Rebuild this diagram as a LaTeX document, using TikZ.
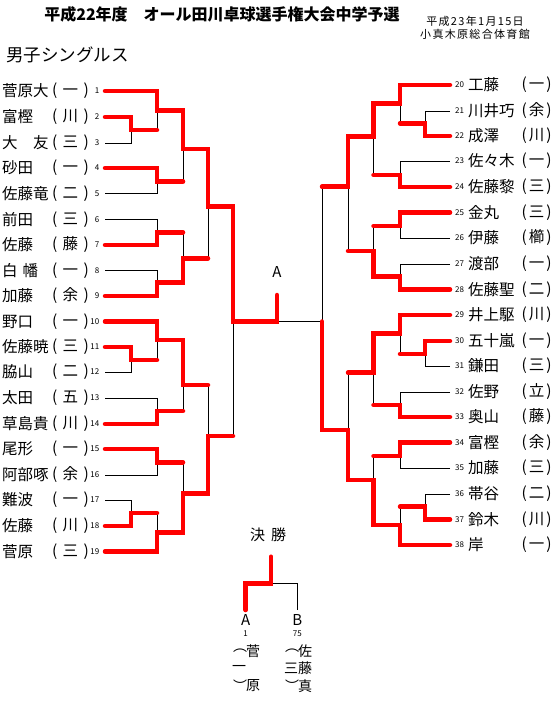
\documentclass[tikz,border=0pt]{standalone}
\usepackage{fontspec}
\setmainfont{Noto Sans CJK JP}
\newfontfamily\datefont[LetterSpace=12]{Noto Sans CJK JP}
\begin{document}
\begin{tikzpicture}[x=1pt,y=-1pt,
  win/.style={draw=red,line width=4.5pt,line cap=round,line join=miter},
  lose/.style={draw=black,line width=1pt},
  nm/.style={anchor=west,inner sep=0pt,font=\fontsize{15.5}{15.5}\selectfont},
  af/.style={inner sep=0pt,font=\fontsize{15.5}{15.5}\selectfont},
  num/.style={inner sep=0pt,font=\fontsize{8}{8}\selectfont},
  lab/.style={inner sep=0pt,font=\fontsize{15}{15}\selectfont},
  vt/.style={inner sep=0pt,font=\fontsize{14}{14}\selectfont}]
\useasboundingbox (0,0) rectangle (555,701);
% titles
\node[inner sep=0pt,font=\fontsize{16}{16}\selectfont\bfseries] (title) at (222,14) {平成22年度　オール田川卓球選手権大会中学予選};
\node[inner sep=0pt,font=\datefont\fontsize{11}{11}\selectfont] (date) at (475,21) {平成23年1月15日};
\node[inner sep=0pt,font=\datefont\fontsize{11}{11}\selectfont] (venue) at (475,34) {小真木原総合体育館};
\node[anchor=west,inner sep=0pt,font=\fontsize{17.5}{17.5}\selectfont] (event) at (6,55) {男子シングルス};
% left players
\foreach \i/\y/\n/\a in {1/91/菅原大/一,2/117/富樫/川,3/143/大　友/三,4/168/砂田/一,5/193.5/佐藤竜/二,6/219.5/前田/三,7/245/佐藤/藤,8/270.5/{白\hspace{5pt}幡}/一,9/296/加藤/余,10/321.5/野口/一,11/347/佐藤暁/三,12/372/脇山/二,13/398/太田/五,14/424/草島貴/川,15/449/尾形/一,16/475/阿部啄/余,17/500/難波/一,18/526/佐藤/川,19/551.5/菅原/三}{
  \node[nm] (n\i) at (2,\y) {\n};
  \node[af] (a\i) at (70.5,\y) {(\hspace{5.5pt}\a\hspace{5.5pt})};
  \node[num,anchor=east] (k\i) at (99.5,\y) {\i};
  \coordinate (L\i) at (105,\y);
}
% right players
\foreach \i/\y/\n/\a in {20/85/工藤/一,21/111/川井巧/余,22/136/成澤/川,23/161/佐々木/一,24/187/佐藤黎/三,25/212.5/金丸/三,26/238/伊藤/櫛,27/264/渡部/一,28/289.5/佐藤聖/二,29/315/井上駆/川,30/341/五十嵐/一,31/366/鎌田/三,32/392/佐野/立,33/417/奥山/藤,34/442.5/富樫/余,35/468/加藤/三,36/494/帯谷/二,37/519.5/鈴木/川,38/545/岸/一}{
  \node[nm] (n\i) at (468,\y) {\n};
  \node[af] (a\i) at (536.5,\y) {(\hspace{2pt}\a\hspace{2pt})};
  \node[num,anchor=west] (k\i) at (455,\y) {\i};
  \coordinate (R\i) at (450,\y);
}
% left match points
\coordinate (a23) at (131,130);
\coordinate (a1m) at (157,110.7);
\coordinate (a45) at (157,181.5);
\coordinate (a15) at (183,149);
\coordinate (a67) at (157,232.3);
\coordinate (a89) at (157,282.7);
\coordinate (a69) at (183,258.3);
\coordinate (a19) at (208,206.7);
\coordinate (a1112) at (131,360);
\coordinate (a1012) at (157,340);
\coordinate (a1314) at (157,411);
\coordinate (a1014) at (183,385);
\coordinate (a1516) at (157,462.3);
\coordinate (a1718) at (131,513);
\coordinate (a1719) at (157,532.5);
\coordinate (a1519) at (183,493.3);
\coordinate (a1019) at (208,436);
\coordinate (aL) at (233,321.5);
\coordinate (top) at (277,295);
% right match points
\coordinate (b2122) at (425,123.3);
\coordinate (b20) at (400,103.3);
\coordinate (b2324) at (400,175);
\coordinate (b2024) at (373.5,136.7);
\coordinate (b2526) at (400,226);
\coordinate (b2728) at (400,276.7);
\coordinate (b2528) at (373.5,251);
\coordinate (b2028) at (348,186.7);
\coordinate (b3031) at (425,354);
\coordinate (b2931) at (400,333.3);
\coordinate (b3233) at (400,405);
\coordinate (b2933) at (373.5,372.7);
\coordinate (b3435) at (400,456);
\coordinate (b3637) at (425,506.7);
\coordinate (b3638) at (400,525);
\coordinate (b3438) at (373.5,480);
\coordinate (b2938) at (348,430);
\coordinate (bR) at (322,321.5);
% black bracket (left)
\draw[lose] (L1) -| (a1m) (L2) -| (a23) (L3) -| (a23) (a23) -| (a1m)
  (L4) -| (a45) (L5) -| (a45) (a1m) -| (a15) (a45) -| (a15) (a15) -| (a19)
  (L6) -| (a67) (L7) -| (a67) (L8) -| (a89) (L9) -| (a89) (a67) -| (a69) (a89) -| (a69) (a69) -| (a19)
  (a19) -| (aL)
  (L10) -| (a1012) (L11) -| (a1112) (L12) -| (a1112) (a1112) -| (a1012)
  (L13) -| (a1314) (L14) -| (a1314) (a1012) -| (a1014) (a1314) -| (a1014)
  (L15) -| (a1516) (L16) -| (a1516) (L17) -| (a1718) (L18) -| (a1718) (a1718) -| (a1719) (L19) -| (a1719)
  (a1516) -| (a1519) (a1719) -| (a1519) (a1014) -| (a1019) (a1519) -| (a1019) (a1019) -| (aL)
  (aL) -- (bR);
% black bracket (right)
\draw[lose] (R20) -| (b20) (R21) -| (b2122) (R22) -| (b2122) (b2122) -| (b20)
  (R23) -| (b2324) (R24) -| (b2324) (b20) -| (b2024) (b2324) -| (b2024)
  (R25) -| (b2526) (R26) -| (b2526) (R27) -| (b2728) (R28) -| (b2728) (b2526) -| (b2528) (b2728) -| (b2528)
  (b2024) -| (b2028) (b2528) -| (b2028) (b2028) -| (bR)
  (R29) -| (b2931) (R30) -| (b3031) (R31) -| (b3031) (b3031) -| (b2931)
  (R32) -| (b3233) (R33) -| (b3233) (b2931) -| (b2933) (b3233) -| (b2933)
  (R34) -| (b3435) (R35) -| (b3435) (R36) -| (b3637) (R37) -| (b3637) (b3637) -| (b3638) (R38) -| (b3638)
  (b3435) -| (b3438) (b3638) -| (b3438) (b2933) -| (b2938) (b3438) -| (b2938) (b2938) -| (bR);
% red winners (left)
\draw[win] (L1) -| (a1m) -| (a15) -| (a19) -| (aL) -| (top);
\draw[win] (L2) -| (a23) -- (a23 -| a1m);
\draw[win] (L4) -| (a45) -- (a45 -| a15);
\draw[win] (L7) -| (a67) -- (a67 -| a69);
\draw[win] (L9) -| (a89) -| (a69) -- (a69 -| a19);
\draw[win] (L10) -| (a1012) -| (a1014) -- (a1014 -| a1019);
\draw[win] (L11) -| (a1112) -- (a1112 -| a1012);
\draw[win] (L14) -| (a1314) -- (a1314 -| a1014);
\draw[win] (L15) -| (a1516) -- (a1516 -| a1519);
\draw[win] (L18) -| (a1718) -- (a1718 -| a1719);
\draw[win] (L19) -| (a1719) -| (a1519) -| (a1019) -- (a1019 -| aL);
% red winners (right)
\draw[win] (R20) -| (b20) -| (b2024) -| (b2028) -- (b2028 -| bR);
\draw[win] (R22) -| (b2122) -- (b2122 -| b20);
\draw[win] (R24) -| (b2324) -- (b2324 -| b2024);
\draw[win] (R25) -| (b2526) -- (b2526 -| b2528);
\draw[win] (R28) -| (b2728) -| (b2528) -- (b2528 -| b2028);
\draw[win] (R29) -| (b2931) -| (b2933) -- (b2933 -| b2938);
\draw[win] (R30) -| (b3031) -- (b3031 -| b2931);
\draw[win] (R33) -| (b3233) -- (b3233 -| b2933);
\draw[win] (R34) -| (b3435) -- (b3435 -| b3438);
\draw[win] (R37) -| (b3637) -- (b3637 -| b3638);
\draw[win] (R38) -| (b3638) -| (b3438) -| (b2938) -| (bR);
% center label
\node[lab] (cA) at (277,272) {A};
% final
\node[lab] (kessho) at (268,535) {決\hspace{6pt}勝};
\coordinate (fT) at (271,556.7);
\coordinate (fM) at (271,583.3);
\coordinate (fA) at (245.7,610);
\coordinate (fB) at (297.3,610);
\draw[lose] (fM) -| (fA) (fM) -| (fB);
\draw[win] (fT) -- (fM) -| (fA);
\node[lab] (A) at (245.7,620) {A};
\node[lab] (B) at (297.3,620) {B};
\node[num] (fa1) at (245.7,634) {1};
\node[num] (fb1) at (297.3,634) {75};
\node[vt] (va1) at (240,651) {︵};
\node[vt] (va2) at (253,651) {菅};
\node[vt] (va3) at (239,668) {一};
\node[vt] (va4) at (240,686) {︶};
\node[vt] (va5) at (253,686) {原};
\node[vt] (vb1) at (292,651) {︵};
\node[vt] (vb2) at (305,651) {佐};
\node[vt] (vb3) at (291,668) {三};
\node[vt] (vb4) at (305,668) {藤};
\node[vt] (vb5) at (292,686) {︶};
\node[vt] (vb6) at (305,686) {真};
\end{tikzpicture}
\end{document}
